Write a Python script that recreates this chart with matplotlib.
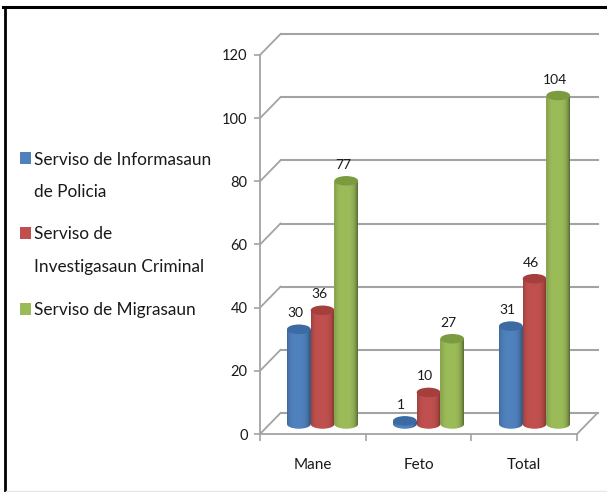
import numpy as np
import matplotlib
matplotlib.use("Agg")
import matplotlib.pyplot as plt
from matplotlib.patches import Ellipse, Rectangle
from matplotlib.path import Path
from matplotlib.transforms import IdentityTransform

plt.rcParams['font.family'] = ['Lato', 'DejaVu Sans']

categories = ['Mane', 'Feto', 'Total']
informasaun = [30, 1, 31]
investigasaun = [36, 10, 46]
migrasaun = [77, 27, 104]
y_ticks = [0, 20, 40, 60, 80, 100, 120]

colors = ['#4f81bd', '#c0504d', '#9bbb59']
top_colors = ['#3c6aa3', '#a53f3c', '#7c9a40']

W, H = 607, 492
fig = plt.figure(figsize=(W / 100, H / 100), dpi=100)
ax = fig.add_axes([260 / W, 1 - 434 / H, (577 - 260) / W, (434 - 55) / H])
ax.set_xlim(0, 3)
ax.set_ylim(0, 120)
ax.patch.set_alpha(0)

# pixel sizes in data units
px_x = 3 / (577 - 260)
px_y = 120 / (434 - 55)
depth_x = 20.5 * px_x
depth_y = 21 * px_y
bar_w = 23.7 * px_x
base = 10 * px_y
ell_h = 9.5 * px_y
first_left = 27 * px_x

grey = '#a3a3a3'
for t in y_ticks:
    ax.plot([0, depth_x], [t, t + depth_y], color=grey, lw=1.3, clip_on=False, zorder=1)
    ax.plot([depth_x, 3 + depth_x], [t + depth_y, t + depth_y], color=grey, lw=1.5, clip_on=False, zorder=1)
ax.plot([3, 3 + depth_x], [0, depth_y], color=grey, lw=1.3, clip_on=False, zorder=1)

# shading across a cylinder, dark on the edges
n = 64
u = np.linspace(-1, 1, n)
shade = np.zeros((1, n, 4))
shade[0, :, 3] = np.abs(u + 0.1) ** 4 * 0.3

all_values = [informasaun, investigasaun, migrasaun]
for s, values in enumerate(all_values):
    lefts = np.arange(len(categories)) * (106 * px_x) + first_left + s * bar_w
    bars = ax.bar(lefts, values, width=bar_w, bottom=base, align='edge', color=colors[s], zorder=3 + s)
    for rect, v in zip(bars, values):
        x0 = rect.get_x()
        cx = x0 + bar_w / 2
        top = base + v
        bottom_ell = Ellipse((cx, base), bar_w, ell_h, color=colors[s], lw=0, zorder=3 + s)
        ax.add_patch(bottom_ell)
        clip_path = Path.make_compound_path(
            bottom_ell.get_transform().transform_path(bottom_ell.get_path()),
            rect.get_transform().transform_path(rect.get_path()))
        im = ax.imshow(shade, extent=[x0, x0 + bar_w, base - ell_h, top], aspect='auto', zorder=3 + s, interpolation='bilinear')
        im.set_clip_path(clip_path, IdentityTransform())
        ax.add_patch(Ellipse((cx, top), bar_w, ell_h, color=top_colors[s], lw=0, zorder=3 + s))
        ax.annotate(str(v), (cx, top), xytext=(-2.5, 11.5), textcoords='offset points',
                    ha='center', va='center', fontsize=10, color='#1a1a1a', zorder=10)

ax.set_xlim(0, 3)
ax.set_ylim(0, 120)

for side in ['top', 'right']:
    ax.spines[side].set_visible(False)
for side in ['left', 'bottom']:
    ax.spines[side].set_color(grey)
    ax.spines[side].set_linewidth(1.3)

ax.set_yticks(y_ticks)
ax.set_xticks([0.5, 1.5, 2.5], categories)
ax.set_xticks([0, 1, 2, 3], minor=True)
ax.tick_params(axis='x', which='major', length=0, pad=17, labelsize=11, labelcolor='#1a1a1a')
ax.tick_params(axis='x', which='minor', length=5, width=1.2, color=grey)
ax.tick_params(axis='y', length=4, width=1.2, color=grey, pad=5, labelsize=10.5, labelcolor='#1a1a1a')

# legend, written by hand since the entries wrap
legend_lines = [('Serviso de Informasaun', 160), ('de Policia', 192), ('Serviso de', 234),
                ('Investigasaun Criminal', 267), ('Serviso de Migrasaun', 310)]
for txt, y in legend_lines:
    fig.text(34 / W, 1 - y / H, txt, fontsize=12.4, va='center', ha='left', color='#1a1a1a')
for c, y in zip(colors, [152, 227, 303]):
    fig.add_artist(Rectangle((20 / W, 1 - (y + 12) / H), 11 / W, 12 / H, color=c, lw=0, transform=fig.transFigure))

# black frame of the screenshot
fig.add_artist(plt.Line2D([3 / W, 1], [1 - 6.5 / H, 1 - 6.5 / H], color='black', lw=2.2))
fig.add_artist(plt.Line2D([4.5 / W, 4.5 / W], [1 - 6.5 / H, 0], color='black', lw=2.0))
fig.add_artist(plt.Line2D([6 / W, 1], [1 - 491 / H, 1 - 491 / H], color='#e6e6e6', lw=1.0))

fig.savefig('out.png', dpi=100)
